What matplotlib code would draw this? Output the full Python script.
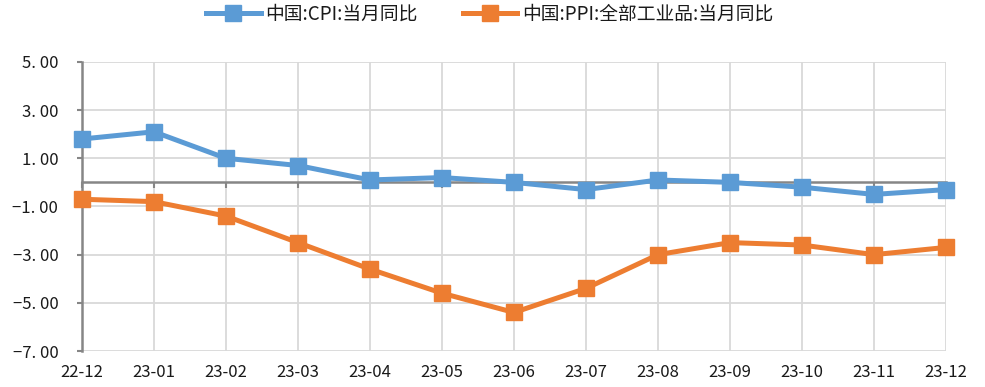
import matplotlib
matplotlib.use("Agg")
import matplotlib.pyplot as plt
from matplotlib.ticker import FixedLocator

plt.rcParams['font.family'] = ['Noto Sans CJK SC', 'DejaVu Sans']
plt.rcParams['axes.unicode_minus'] = True

months = ["22-12", "23-01", "23-02", "23-03", "23-04", "23-05", "23-06",
          "23-07", "23-08", "23-09", "23-10", "23-11", "23-12"]
cpi = [1.8, 2.1, 1.0, 0.7, 0.1, 0.2, 0.0, -0.3, 0.1, 0.0, -0.2, -0.5, -0.3]
ppi = [-0.7, -0.8, -1.4, -2.5, -3.6, -4.6, -5.4, -4.4, -3.0, -2.5, -2.6, -3.0, -2.7]
series_names = ["中国:CPI:当月同比", "中国:PPI:全部工业品:当月同比"]
y_ticks = [5, 3, 1, -1, -3, -5, -7]

blue = "#5B9BD5"
orange = "#ED7D31"
axis_gray = "#868686"
grid_gray = "#D9D9D9"
text_color = "#1A1A1A"

fig = plt.figure(figsize=(9.85, 3.87), dpi=100)
ax = fig.add_axes([0.0832, 0.093, 0.8772, 0.747])

x = list(range(len(months)))
ax.plot(x, cpi, color=blue, lw=3.6, marker="s", ms=11, label=series_names[0],
        solid_joinstyle="miter", zorder=4, clip_on=False)
ax.plot(x, ppi, color=orange, lw=3.6, marker="s", ms=11, label=series_names[1],
        solid_joinstyle="miter", zorder=4, clip_on=False)

ax.set_xlim(0, len(months) - 1)
ax.set_ylim(-7, 5)

# value axis: two decimals, label every 2 units
ax.yaxis.set_major_locator(FixedLocator(y_ticks))
ax.set_yticklabels([f"{v:.2f}".replace("-", "\u2212").replace(".", ". ")
                    for v in y_ticks], fontsize=12)
ax.set_xticks(x)
ax.set_xticklabels([])
ax.grid(True, color=grid_gray, lw=1.3)
ax.set_axisbelow(True)

# spines: left gray, horizontal axis line drawn at zero
for s in ["top", "right"]:
    ax.spines[s].set_visible(False)
ax.spines["left"].set_color(axis_gray)
ax.spines["left"].set_linewidth(1.8)
ax.spines["bottom"].set_position(("data", 0))
ax.spines["bottom"].set_color(axis_gray)
ax.spines["bottom"].set_linewidth(1.8)
ax.spines["bottom"].set_zorder(3)
ax.tick_params(axis="y", direction="out", length=3.5, width=1.5, color=axis_gray,
               pad=13.5, labelcolor=text_color)
ax.tick_params(axis="x", direction="out", length=4, width=1.5, color=axis_gray)

# category labels along the bottom edge of the plot area
sec = ax.secondary_xaxis(0)
sec.set_xticks(x)
sec.set_xticklabels(months, fontsize=12, color=text_color)
sec.tick_params(length=0, pad=9)
sec.spines["bottom"].set_visible(False)

leg = fig.legend(loc="center", bbox_to_anchor=(0.497, 0.963), ncol=2,
                 frameon=False, fontsize=13.5, handlelength=2.9,
                 columnspacing=2.4, handletextpad=0.25)
for t in leg.get_texts():
    t.set_color(text_color)

fig.savefig("out.png", dpi=100)
